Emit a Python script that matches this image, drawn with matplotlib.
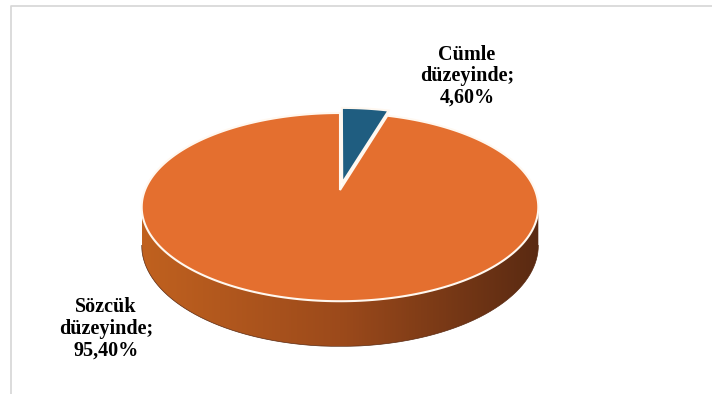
import matplotlib.pyplot as plt
import numpy as np
from matplotlib.patches import Polygon
from matplotlib.colors import LinearSegmentedColormap

# data
categories = ["Cümle\ndüzeyinde", "Sözcük\ndüzeyinde"]
values = [4.60, 95.40]
colors = ["#1F5D80", "#E46F2F"]
explode = [0.08, 0.0]

# pie geometry in pixel space (perspective 3D pie)
cx, cy = 340, 190
R, k, D, h = 195, 91, 5.5, 37


def proj(x, dep, z=0.0):
    s = D / (D - dep)
    return cx + R * x * s, cy + k * dep * s + z * h * s


def point(theta, r=1.0, off=(0.0, 0.0)):
    # theta in degrees, clockwise from 12 o'clock
    t = np.radians(theta)
    return r * np.sin(t) + off[0], -r * np.cos(t) + off[1]


fig = plt.figure(figsize=(7.12, 3.94), dpi=100)
ax = fig.add_axes([0, 0, 1, 1])
ax.set_xlim(0, 712)
ax.set_ylim(394, 0)
ax.axis("off")

# frame
ax.plot([11, 11, 712], [394, 6, 6], color="#D6D6D6", lw=1.2)

# side of the big slice (front half), with gradient
th = np.linspace(0, 360, 2000)
x, d = point(th)
X, Y = proj(x, d)
i_left, i_right = np.argmin(X), np.argmax(X)
arc = np.linspace(th[i_right], th[i_left], 400)
ax_, ad_ = point(arc)
tx, ty = proj(ax_, ad_)
bx, by = proj(ax_, ad_, 1.0)
side = np.column_stack([np.r_[tx, bx[::-1]], np.r_[ty, by[::-1]]])
side_patch = Polygon(side, closed=True, facecolor="none", edgecolor="none")
ax.add_patch(side_patch)
cmap = LinearSegmentedColormap.from_list("side", ["#C0611F", "#9C4A1B", "#5A2A12"])
grad = np.linspace(0, 1, 256).reshape(1, -1)
im = ax.imshow(grad, cmap=cmap, extent=[tx.min(), tx.max(), by.max(), ty.min()],
               aspect="auto", zorder=1)
im.set_clip_path(side_patch)
ax.plot(bx, by, color="#5A2A12", lw=0.5, zorder=1)

# tops of slices
start = 0.0
total = sum(values)
tops = []
for val, col, ex in zip(values, colors, explode):
    span = 360 * val / total
    mid = start + span / 2
    off = point(mid, ex)
    a = np.linspace(start, start + span, 300)
    px, pd = point(a, 1.0, off)
    ox, od = off
    xs = np.r_[ox, px]
    ds = np.r_[od, pd]
    PX, PY = proj(xs, ds)
    tops.append((np.column_stack([PX, PY]), col))
    start += span

for poly, col in tops[::-1]:
    ax.add_patch(Polygon(poly, closed=True, facecolor=col, edgecolor="#FFF8F0",
                         lw=1.5, zorder=2))

# labels
font = dict(family="Liberation Serif", weight="bold", fontsize=14.5,
            ha="center", va="center", linespacing=1.1)
label_pos = [(467, 76), (106, 329)]
for cat, val, (lx, ly) in zip(categories, values, label_pos):
    txt = f"{cat};\n" + f"{val:.2f}%".replace(".", ",")
    ax.text(lx, ly, txt, **font)

plt.savefig("out.png", dpi=100)
